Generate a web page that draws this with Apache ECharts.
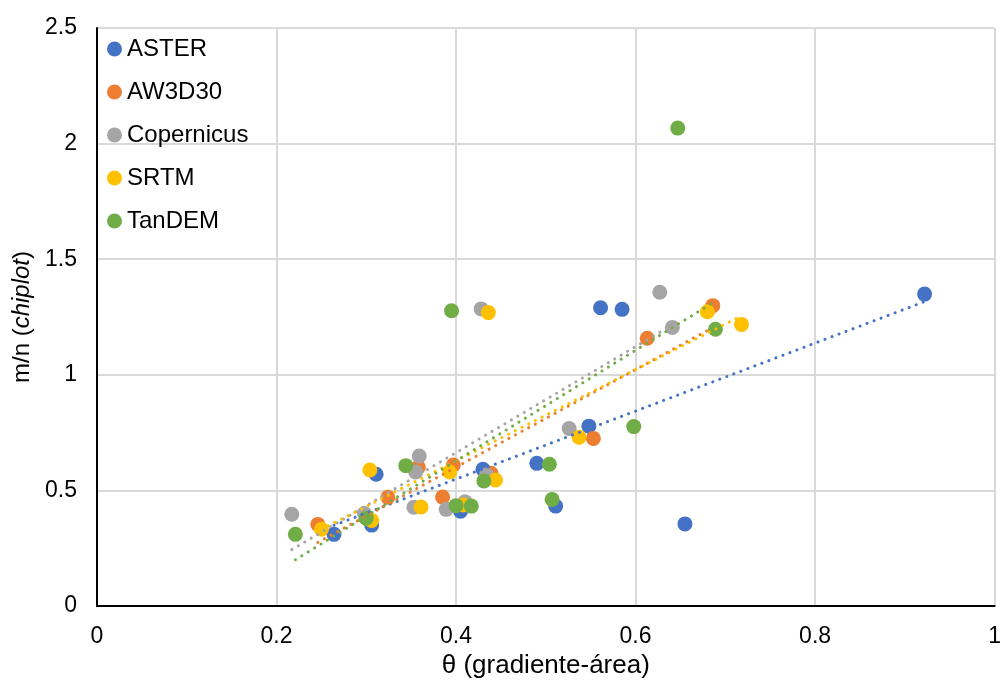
<!DOCTYPE html>
<html>
<head>
<meta charset="utf-8">
<script src="https://cdn.jsdelivr.net/npm/echarts@6/dist/echarts.min.js"></script>
<style>
  html, body { margin: 0; padding: 0; background: #fff; }
  #chart { width: 1004px; height: 686px; }
</style>
</head>
<body>
<div id="chart"></div>
<script>
// θ (gradient-area) vs m/n (chiplot) per DEM source
const seriesNames = ['ASTER', 'AW3D30', 'Copernicus', 'SRTM', 'TanDEM'];
const colors = ['#4472C4', '#ED7D31', '#A5A5A5', '#FFC000', '#70AD47'];

const asterPts = [
  [0.264, 0.31], [0.311, 0.57], [0.306, 0.35], [0.405, 0.41], [0.430, 0.591],
  [0.490, 0.617], [0.511, 0.432], [0.548, 0.778], [0.561, 1.29], [0.585, 1.283],
  [0.655, 0.355], [0.922, 1.349]
];
const aw3d30Pts = [
  [0.246, 0.353], [0.300, 0.38], [0.324, 0.47], [0.358, 0.60], [0.385, 0.471],
  [0.397, 0.61], [0.439, 0.574], [0.553, 0.725], [0.613, 1.158], [0.686, 1.299]
];
const copernicusPts = [
  [0.217, 0.397], [0.298, 0.40], [0.355, 0.58], [0.359, 0.649], [0.353, 0.427],
  [0.389, 0.418], [0.410, 0.451], [0.434, 0.567], [0.428, 1.285], [0.526, 0.768],
  [0.627, 1.357], [0.641, 1.205]
];
const srtmPts = [
  [0.250, 0.332], [0.304, 0.588], [0.306, 0.37], [0.361, 0.428], [0.393, 0.58],
  [0.408, 0.437], [0.436, 1.269], [0.444, 0.545], [0.537, 0.73], [0.680, 1.273],
  [0.718, 1.218]
];
const tandemPts = [
  [0.221, 0.31], [0.300, 0.38], [0.344, 0.607], [0.395, 1.277], [0.400, 0.434],
  [0.417, 0.432], [0.431, 0.541], [0.504, 0.613], [0.507, 0.461], [0.598, 0.776],
  [0.647, 2.067], [0.689, 1.197]
];
const allPts = [asterPts, aw3d30Pts, copernicusPts, srtmPts, tandemPts];

// least-squares line over each series' x range
function linearFit(pts) {
  const n = pts.length;
  let sx = 0, sy = 0, sxx = 0, sxy = 0;
  pts.forEach(([x, y]) => { sx += x; sy += y; sxx += x * x; sxy += x * y; });
  const b = (n * sxy - sx * sy) / (n * sxx - sx * sx);
  const a = (sy - b * sx) / n;
  const xs = pts.map(p => p[0]);
  const x0 = Math.min(...xs), x1 = Math.max(...xs);
  return [[x0, a + b * x0], [x1, a + b * x1]];
}

const font = '"Liberation Sans", Arial, sans-serif';

const series = [];
seriesNames.forEach((name, i) => {
  series.push({
    name: name,
    type: 'scatter',
    data: allPts[i],
    symbol: 'circle',
    symbolSize: 15,
    itemStyle: { color: colors[i], opacity: 1 },
    z: 2
  });
});
seriesNames.forEach((name, i) => {
  series.push({
    name: name + ' trend',
    type: 'line',
    data: linearFit(allPts[i]),
    symbol: 'none',
    silent: true,
    lineStyle: { color: colors[i], width: 3, type: [0.1, 7.4], cap: 'round' },
    z: 3
  });
});

const chart = echarts.init(document.getElementById('chart'));
chart.setOption({
  animation: false,
  backgroundColor: '#fff',
  textStyle: { fontFamily: font },
  grid: { left: 97, right: 4, top: 28, bottom: 80 },
  legend: {
    data: seriesNames,
    orient: 'vertical',
    left: 107,
    top: 37,
    padding: 0,
    itemWidth: 15,
    itemHeight: 15,
    itemGap: 19,
    icon: 'circle',
    textStyle: { fontFamily: font, fontSize: 24, lineHeight: 24, color: '#000' }
  },
  xAxis: {
    type: 'value',
    min: 0, max: 1, interval: 0.2,
    name: 'θ (gradiente-área)',
    nameLocation: 'middle',
    nameGap: 46,
    nameTextStyle: { fontFamily: font, fontSize: 26, color: '#000' },
    axisLine: { show: true, onZero: false, lineStyle: { color: '#000', width: 2 } },
    axisTick: { show: false },
    axisLabel: { fontFamily: font, fontSize: 23, color: '#000', margin: 19 },
    splitLine: { show: true, lineStyle: { color: '#D9D9D9', width: 2 } }
  },
  yAxis: {
    type: 'value',
    min: 0, max: 2.5, interval: 0.5,
    name: '{n|m/n (}{i|chiplot}{n|)}',
    nameLocation: 'middle',
    nameGap: 63,
    nameTextStyle: {
      fontFamily: font, fontSize: 24, color: '#000',
      rich: {
        n: { fontFamily: font, fontSize: 24, color: '#000' },
        i: { fontFamily: font, fontSize: 24, color: '#000', fontStyle: 'italic' }
      }
    },
    axisLine: { show: true, onZero: false, lineStyle: { color: '#000', width: 2 } },
    axisTick: { show: false },
    axisLabel: { fontFamily: font, fontSize: 23, color: '#000', margin: 20 },
    splitLine: { show: true, lineStyle: { color: '#D9D9D9', width: 2 } }
  },
  series: series
});
</script>
</body>
</html>
